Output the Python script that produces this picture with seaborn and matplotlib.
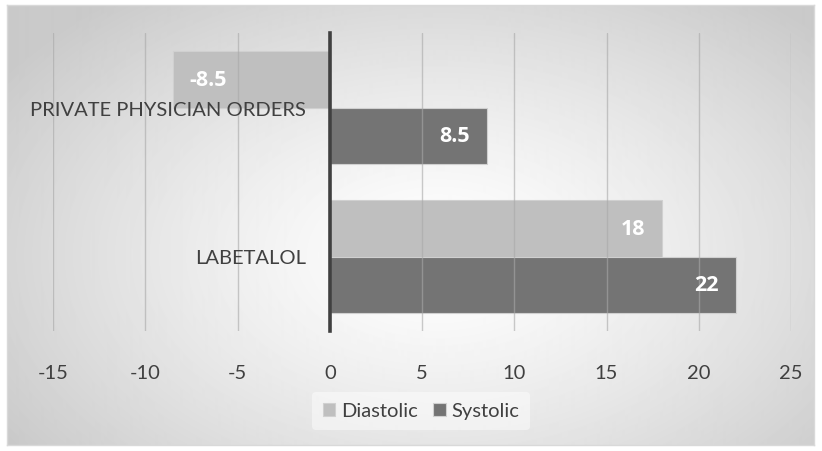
import numpy as np
import pandas as pd
import matplotlib
matplotlib.use("Agg")
import matplotlib.pyplot as plt
import seaborn as sns

categories = ["PRIVATE PHYSICIAN ORDERS", "LABETALOL"]
series = ["Diastolic", "Systolic"]
diastolic = [-8.5, 18]
systolic = [8.5, 22]
xticks = [-15, -10, -5, 0, 5, 10, 15, 20, 25]

df = pd.DataFrame({
    "drug": categories * 2,
    "series": ["Diastolic"] * 2 + ["Systolic"] * 2,
    "value": diastolic + systolic,
})

sns.set_theme(style="white")
plt.rcParams["font.family"] = ["Lato", "DejaVu Sans"]

W, H = 822, 452
fig = plt.figure(figsize=(W / 100, H / 100), dpi=100)
fig.patch.set_facecolor("white")

# radial gradient background of the chart area
bg = fig.add_axes([7 / W, 6 / H, 807 / W, 440 / H], zorder=-10)
yy, xx = np.mgrid[0:440, 0:807]
r = np.hypot((xx - 430) / 520, (yy - 250) / 330)
shade = 1 - 0.21 * np.clip(r, 0, 1) ** 1.3
bg.imshow(shade, cmap="gray", vmin=0, vmax=1, aspect="auto", interpolation="bilinear")
bg.set_xticks([])
bg.set_yticks([])
for s in bg.spines.values():
    s.set_color("#d9d9d9")
    s.set_linewidth(1)

ax = fig.add_axes([53 / W, (H - 332) / H, 738 / W, 298 / H])
ax.patch.set_alpha(0)

sns.barplot(data=df, y="drug", x="value", hue="series", order=categories,
            hue_order=series, palette=["#bfbfbf", "#747474"], width=0.76,
            edgecolor="#d0d0d0", linewidth=0.8, ax=ax, zorder=2)

ax.set_xlim(-15, 25)
ax.set_ylim(1.5, -0.5)
ax.set_xticks(xticks)
ax.set_xticklabels([str(t) for t in xticks])
ax.grid(axis="x", color="#a8a8a8", linewidth=1, alpha=0.6, zorder=3)
ax.set_axisbelow(False)
ax.set_xlabel("")
ax.set_ylabel("")

for s in ["top", "right", "bottom"]:
    ax.spines[s].set_visible(False)
ax.spines["left"].set_position(("data", 0))
ax.spines["left"].set_color("#404040")
ax.spines["left"].set_linewidth(2.6)
ax.spines["left"].set_zorder(4)

ax.tick_params(axis="x", length=0, pad=24, labelsize=14.5, labelcolor="#404040")
ax.tick_params(axis="y", length=0, pad=17, labelsize=14.5, labelcolor="#404040")

# data labels inside the bar ends
for p in ax.patches:
    w = p.get_width()
    if p.get_height() == 0 or np.isnan(w):
        continue
    yc = p.get_y() + p.get_height() / 2
    off = -12 if w > 0 else 12
    ax.annotate(f"{w:g}", (w, yc), xytext=(off, 0), textcoords="offset points",
                ha="right" if w > 0 else "left", va="center",
                color="white", fontsize=15.5, fontweight="bold",
                family=["Open Sans", "DejaVu Sans"], zorder=5)

handles, labels = ax.get_legend_handles_labels()
ax.get_legend().remove()
leg = fig.legend(handles, labels, loc="center", bbox_to_anchor=(421 / W, 1 - 412 / H),
                 ncol=2, frameon=True, fontsize=14.5, handlelength=0.6,
                 handleheight=0.6, handletextpad=0.3, columnspacing=0.8,
                 borderpad=0.5)
leg.get_frame().set_facecolor("white")
leg.get_frame().set_alpha(0.45)
leg.get_frame().set_edgecolor("none")
for t in leg.get_texts():
    t.set_color("#404040")

fig.savefig("out.png", dpi=100)
